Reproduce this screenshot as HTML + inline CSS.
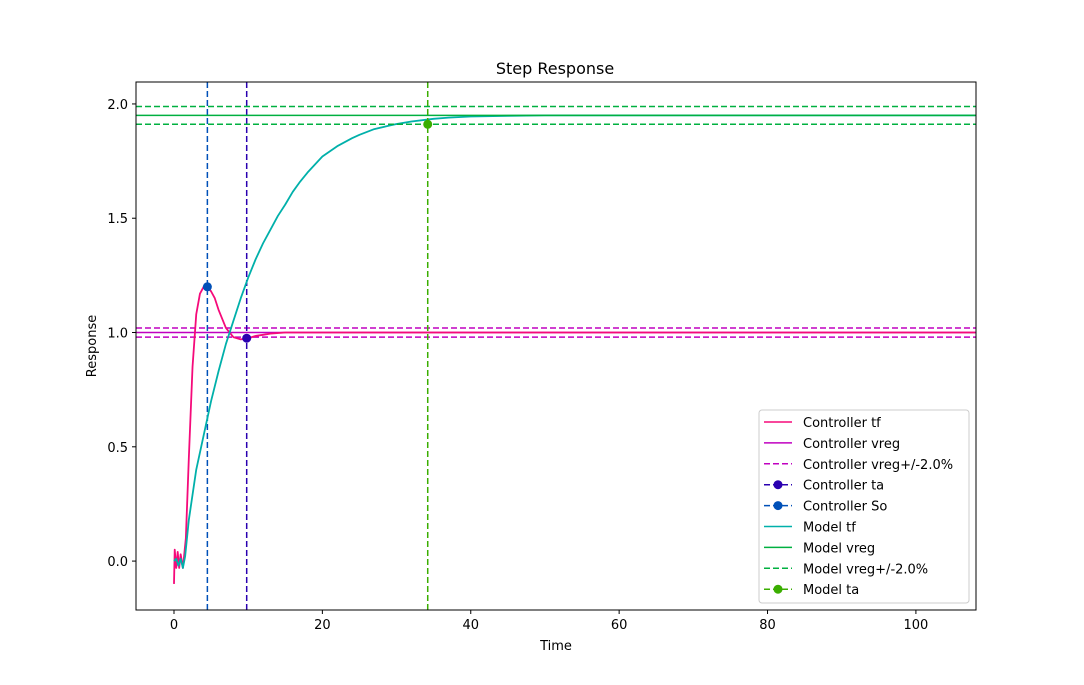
<!DOCTYPE html>
<html><head><meta charset="utf-8"><style>
body{margin:0;background:#fff;}
svg{display:block;font-family:"DejaVu Sans","Liberation Sans",sans-serif;}
</style></head><body>
<svg id="chart" width="1084" height="685" viewBox="0 0 1084 685" xmlns="http://www.w3.org/2000/svg">
<rect width="1084" height="685" fill="#fff"/>
<g id="plot"></g>
<text x="555" y="74" text-anchor="middle" font-size="16">Step Response</text>
<text x="556" y="650" text-anchor="middle" font-size="13">Time</text>
<text transform="translate(96,346) rotate(-90)" text-anchor="middle" font-size="13">Response</text>
</svg>
<script>
const xTicks=[0,20,40,60,80,100];
const yTicks=[0.0,0.5,1.0,1.5,2.0];
const yTickLabels=["0.0","0.5","1.0","1.5","2.0"];
const ctrlT=[0,0.1,0.3,0.5,0.7,0.9,1.2,1.6,2.0,2.5,3.0,3.5,4.0,4.5,5,5.5,6,6.5,7,7.5,8,8.5,9,10,11,12,13,15,108];
const ctrlY=[-0.1,0.05,-0.03,0.04,-0.03,0.03,-0.03,0.1,0.45,0.85,1.08,1.17,1.2,1.2,1.18,1.15,1.1,1.06,1.02,1.0,0.98,0.975,0.97,0.975,0.985,0.99,0.995,1.0,1.0];
const modelT=[0,0.3,0.6,0.9,1.2,1.5,2,3,4,5,6,7,8,9,10,11,12,13,14,15,16,17,18,19,20,22,24,25,27,29,30,32,35,37,40,45,50,60,108];
const modelY=[0,0.01,-0.02,0.01,-0.03,0.02,0.18,0.4,0.55,0.7,0.83,0.95,1.05,1.15,1.24,1.32,1.39,1.45,1.51,1.56,1.615,1.66,1.7,1.735,1.77,1.815,1.85,1.865,1.89,1.905,1.912,1.923,1.935,1.94,1.945,1.948,1.95,1.95,1.95];
const ctrlVreg=1.0, modelVreg=1.95, band=0.02;
const ctrlTa=[9.8,0.975], ctrlSo=[4.5,1.2], modelTa=[34.2,1.911];
const L=136,R=976,T=82,B=610,x0=-5.12,x1=108.1,y0=-0.214,y1=2.096;
const sx=v=>L+(v-x0)/(x1-x0)*(R-L), sy=v=>B-(v-y0)/(y1-y0)*(B-T);
const NS="http://www.w3.org/2000/svg";
const g=document.getElementById('plot'), svg=document.getElementById('chart');
function mk(tag,a,p){const e=document.createElementNS(NS,tag);for(const k in a)e.setAttribute(k,a[k]);(p||g).appendChild(e);return e;}
const C={ctf:"#f50a7a",cv:"#c000c0",cta:"#2a00b0",cso:"#0050b8",mtf:"#00b0aa",mv:"#00b040",mta:"#3aae00"};
function hline(y,c,d,n){const e=mk('line',{x1:L,x2:R,y1:sy(y),y2:sy(y),stroke:c,'stroke-width':1.5,'stroke-dasharray':d?'6,3':'none'});}
function vline(x,c,n){const e=mk('line',{x1:sx(x),x2:sx(x),y1:T,y2:B,stroke:c,'stroke-width':1.5,'stroke-dasharray':'6,3'});}
function curve(ts,ys,c,n){const e=mk('polyline',{points:ts.map((t,i)=>sx(t)+','+sy(ys[i])).join(' '),fill:'none',stroke:c,'stroke-width':1.8,'stroke-linejoin':'round'});}
function dot(p,c,n){const e=mk('circle',{cx:sx(p[0]),cy:sy(p[1]),r:4.5,fill:c});}
hline(ctrlVreg,C.cv,false,'controller-vreg');
hline(ctrlVreg*(1+band),C.cv,true,'controller-vreg-upper');
hline(ctrlVreg*(1-band),C.cv,true,'controller-vreg-lower');
curve(ctrlT,ctrlY,C.ctf,'controller-tf-line');
vline(ctrlTa[0],C.cta,'controller-ta-line');
vline(ctrlSo[0],C.cso,'controller-so-line');
dot(ctrlTa,C.cta,'controller-ta-point');
dot(ctrlSo,C.cso,'controller-so-point');
curve(modelT,modelY,C.mtf,'model-tf-line');
hline(modelVreg,C.mv,false,'model-vreg');
hline(modelVreg*(1+band),C.mv,true,'model-vreg-upper');
hline(modelVreg*(1-band),C.mv,true,'model-vreg-lower');
vline(modelTa[0],C.mta,'model-ta-line');
dot(modelTa,C.mta,'model-ta-point');
const fr=mk('rect',{x:L,y:T,width:R-L,height:B-T,fill:'none',stroke:'#000','stroke-width':1});

xTicks.forEach(v=>{mk('line',{x1:sx(v),x2:sx(v),y1:B,y2:B+4,stroke:'#000'});
 const t=mk('text',{x:sx(v),y:B+19,'text-anchor':'middle','font-size':13});t.textContent=v;
 });
yTicks.forEach((v,i)=>{mk('line',{x1:L-4,x2:L,y1:sy(v),y2:sy(v),stroke:'#000'});
 const t=mk('text',{x:L-8,y:sy(v)+5,'text-anchor':'end','font-size':13});t.textContent=yTickLabels[i];
 });
const leg=mk('g',{},svg);
mk('rect',{x:759,y:410,width:210,height:193,rx:3,fill:'#fff',stroke:'#ccc'},leg);
const items=[["Controller tf",C.ctf,0,0],["Controller vreg",C.cv,0,0],["Controller vreg+/-2.0%",C.cv,1,0],["Controller ta",C.cta,1,1],["Controller So",C.cso,1,1],["Model tf",C.mtf,0,0],["Model vreg",C.mv,0,0],["Model vreg+/-2.0%",C.mv,1,0],["Model ta",C.mta,1,1]];
items.forEach((it,i)=>{const y=422+i*20.9;
 const e=mk('g',{},leg);
 mk('line',{x1:764,x2:792,y1:y,y2:y,stroke:it[1],'stroke-width':1.5,'stroke-dasharray':it[2]?'6,3':'none'},e);
 if(it[3])mk('circle',{cx:778,cy:y,r:4.5,fill:it[1]},e);
 const t=mk('text',{x:803,y:y+5,'font-size':13},e);t.textContent=it[0];});
</script>
</body></html>
